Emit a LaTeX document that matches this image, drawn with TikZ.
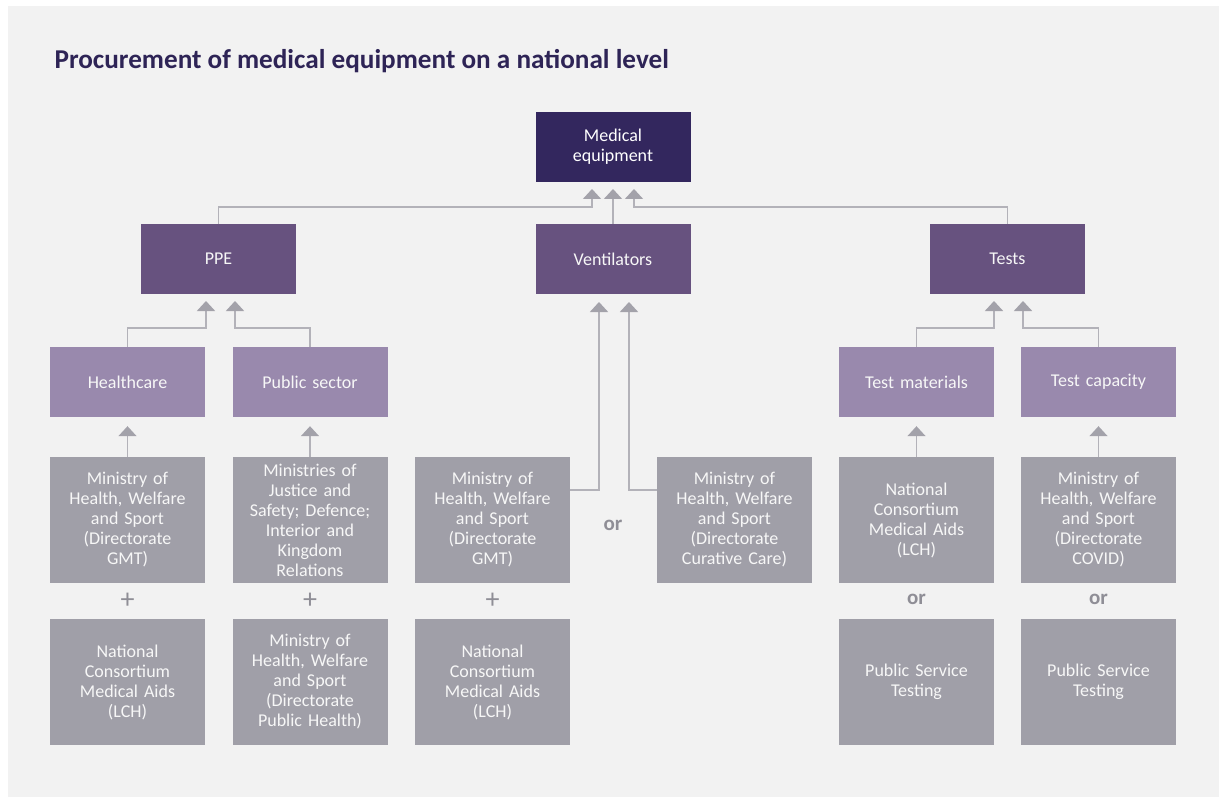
\documentclass[tikz,border=0pt]{standalone}
\usepackage{fontspec}
\setmainfont{Carlito}
\usetikzlibrary{arrows.meta,calc}
\definecolor{bgc}{HTML}{F2F2F2}
\definecolor{medc}{HTML}{33275E}
\definecolor{lvl2}{HTML}{67527F}
\definecolor{lvl3}{HTML}{9989AD}
\definecolor{greyc}{HTML}{A09FA8}
\definecolor{linec}{HTML}{B3B2B9}
\definecolor{tipc}{HTML}{A3A2AA}
\definecolor{titlec}{HTML}{2E2456}
\definecolor{opc}{HTML}{8F8E96}
\definecolor{boxtext}{HTML}{F7F7F7}
\begin{document}
\begin{tikzpicture}[x=1pt,y=-1pt,
  box/.style={rectangle, inner sep=0pt, minimum width=155pt, minimum height=70pt,
    text width=152pt, align=center, text=boxtext, font=\fontsize{18}{20}\selectfont},
  topbox/.style={box, fill=medc, text=white},
  midbox/.style={box, fill=lvl2},
  subbox/.style={box, fill=lvl3},
  gbox/.style={box, fill=greyc, minimum height=126pt},
  conn/.style={draw=linec, line width=1.6pt, -{Triangle[width=18pt,length=10pt,fill=tipc,color=tipc]}},
  opsign/.style={text=opc, font=\fontsize{28}{28}\selectfont},
  orword/.style={text=opc, font=\bfseries\fontsize{21}{21}\selectfont}
]
\useasboundingbox (0,0) rectangle (1219,797);
\fill[white] (0,0) rectangle (1219,797);
\fill[bgc] (8,6) rectangle (1219,797);

\node[anchor=base west, text=titlec, font=\bfseries\fontsize{27.2}{30}\selectfont] (title) at (51,69)
  {Procurement of medical equipment on a national level};

% level 1 and 2
\node[topbox] (med) at (613,147) {Medical\\equipment};
\node[midbox] (ppe) at (218.5,259) {PPE};
\node[midbox] (vent) at (613,259) {Ventilators};
\node[midbox] (tests) at (1007.5,259) {Tests};

% level 3
\node[subbox] (hc) at (127.5,382) {Healthcare};
\node[subbox] (ps) at (310,382) {Public sector};
\node[subbox] (tm) at (916.5,382) {Test materials};
\node[subbox] (tc) at (1098.5,382) {Test capacity};

% grey row 1
\node[gbox] (g1) at (127.5,520) {Ministry of\\Health, Welfare\\and Sport\\(Directorate\\GMT)};
\node[gbox] (g2) at (310,520) {Ministries of\\Justice and\\Safety; Defence;\\Interior and\\Kingdom\\Relations};
\node[gbox] (g3) at (492.5,520) {Ministry of\\Health, Welfare\\and Sport\\(Directorate\\GMT)};
\node[gbox] (g4) at (734.5,520) {Ministry of\\Health, Welfare\\and Sport\\(Directorate\\Curative Care)};
\node[gbox] (g5) at (916.5,520) {National\\Consortium\\Medical Aids\\(LCH)};
\node[gbox] (g6) at (1098.5,520) {Ministry of\\Health, Welfare\\and Sport\\(Directorate\\COVID)};

% grey row 2
\node[gbox] (h1) at (127.5,682) {National\\Consortium\\Medical Aids\\(LCH)};
\node[gbox] (h2) at (310,682) {Ministry of\\Health, Welfare\\and Sport\\(Directorate\\Public Health)};
\node[gbox] (h3) at (492.5,682) {National\\Consortium\\Medical Aids\\(LCH)};
\node[gbox] (h5) at (916.5,682) {Public Service\\Testing};
\node[gbox] (h6) at (1098.5,682) {Public Service\\Testing};

% operators
\node[opsign] (p1) at (127.5,601) {+};
\node[opsign] (p2) at (310,601) {+};
\node[opsign] (p3) at (492.5,601) {+};
\node[orword] (o1) at (613,525) {or};
\node[orword] (o2) at (916.5,599) {or};
\node[orword] (o3) at (1098.5,599) {or};

% arrow tip coordinates
\coordinate (m1) at (592,189);
\coordinate (m2) at (613,189);
\coordinate (m3) at (634,189);
\coordinate (hy) at (0,207);
\coordinate (p1t) at (206,301);
\coordinate (p2t) at (235,301);
\coordinate (t1t) at (994,301);
\coordinate (t2t) at (1023,301);
\coordinate (sy) at (0,328);
\coordinate (v1t) at (599,302);
\coordinate (v2t) at (629,302);

% connectors to medical equipment
\draw[conn] (ppe.north) -- (ppe.north |- hy) -| (m1);
\draw[conn] (vent.north) -- (m2);
\draw[conn] (tests.north) -- (tests.north |- hy) -| (m3);

% to PPE
\draw[conn] (hc.north) -- (hc.north |- sy) -| (p1t);
\draw[conn] (ps.north) -- (ps.north |- sy) -| (p2t);
% to Tests
\draw[conn] (tm.north) -- (tm.north |- sy) -| (t1t);
\draw[conn] (tc.north) -- (tc.north |- sy) -| (t2t);

% grey to level 3
\draw[conn] (g1.north) -- ($(hc.south)+(0,9)$);
\draw[conn] (g2.north) -- ($(ps.south)+(0,9)$);
\draw[conn] (g5.north) -- ($(tm.south)+(0,9)$);
\draw[conn] (g6.north) -- ($(tc.south)+(0,9)$);

% ventilators
\draw[conn] ($(g3.north east)+(0,33)$) -| (v1t);
\draw[conn] ($(g4.north west)+(0,33)$) -| (v2t);
\end{tikzpicture}
\end{document}
